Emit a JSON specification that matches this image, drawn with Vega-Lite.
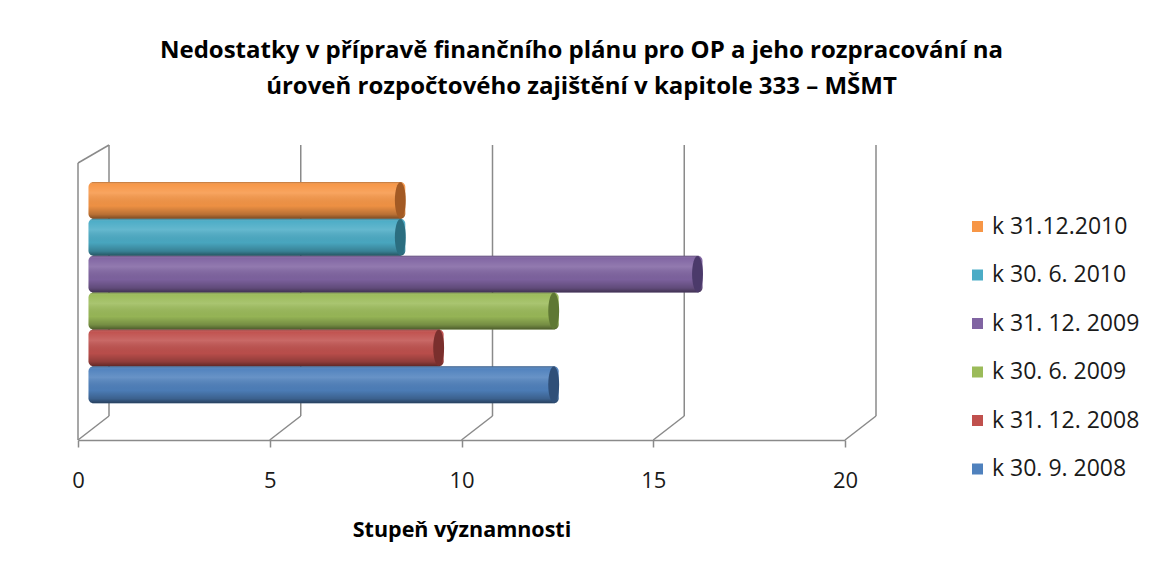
{
  "$schema": "https://vega.github.io/schema/vega-lite/v6.json",
  "width": 767,
  "height": 295,
  "autosize": {"type": "none"},
  "padding": {"left": 78, "top": 145, "right": 310, "bottom": 140},
  "background": "white",
  "config": {
    "font": "Open Sans",
    "view": {"stroke": null}
  },
  "title": {
    "text": ["Nedostatky v přípravě finančního plánu pro OP a jeho rozpracování na", "úroveň rozpočtového zajištění v kapitole 333 – MŠMT"],
    "font": "Open Sans",
    "fontSize": 24,
    "fontWeight": "bold",
    "color": "#000000",
    "lineHeight": 36,
    "anchor": "middle",
    "dx": 120,
    "offset": 45
  },
  "datasets": {
    "ticks": [{"v": 0}, {"v": 5}, {"v": 10}, {"v": 15}, {"v": 20}],
    "bars": [
      {"obdobi": "k 31.12.2010", "hodnota": 8},
      {"obdobi": "k 30. 6. 2010", "hodnota": 8},
      {"obdobi": "k 31. 12. 2009", "hodnota": 15.75},
      {"obdobi": "k 30. 6. 2009", "hodnota": 12},
      {"obdobi": "k 31. 12. 2008", "hodnota": 9},
      {"obdobi": "k 30. 9. 2008", "hodnota": 12}
    ]
  },
  "layer": [
    {
      "data": {"name": "ticks"},
      "mark": {"type": "rule", "color": "#8a8a8a", "strokeWidth": 1.5, "xOffset": 31, "y2Offset": -24},
      "encoding": {
        "x": {"field": "v", "type": "quantitative", "scale": {"domain": [0, 20]}},
        "y": {"value": 0},
        "y2": {"value": "height"}
      }
    },
    {
      "data": {"name": "ticks"},
      "mark": {"type": "rule", "color": "#8a8a8a", "strokeWidth": 1.5, "x2Offset": 31, "y2Offset": -24},
      "encoding": {
        "x": {"field": "v", "type": "quantitative"},
        "x2": {"field": "v"},
        "y": {"value": "height"},
        "y2": {"value": "height"}
      }
    },
    {
      "data": {"values": [{"v": 0}]},
      "mark": {"type": "rule", "color": "#8a8a8a", "strokeWidth": 1.5, "yOffset": 18},
      "encoding": {
        "x": {"field": "v", "type": "quantitative"},
        "y": {"value": 0},
        "y2": {"value": "height"}
      }
    },
    {
      "data": {"values": [{"v": 0}]},
      "mark": {"type": "rule", "color": "#8a8a8a", "strokeWidth": 1.5, "yOffset": 18, "x2Offset": 31},
      "encoding": {
        "x": {"field": "v", "type": "quantitative"},
        "x2": {"field": "v"},
        "y": {"value": 0},
        "y2": {"value": 0}
      }
    },
    {
      "data": {"name": "bars"},
      "mark": {"type": "bar", "xOffset": 20.5, "x2Offset": 10.5, "cornerRadius": 5},
      "encoding": {
        "y": {
          "field": "obdobi", "type": "nominal",
          "sort": ["k 31.12.2010", "k 30. 6. 2010", "k 31. 12. 2009", "k 30. 6. 2009", "k 31. 12. 2008", "k 30. 9. 2008"],
          "scale": {"paddingInner": 0, "paddingOuter": 1.05},
          "axis": null
        },
        "x": {
          "field": "hodnota", "type": "quantitative",
          "scale": {"domain": [0, 20], "nice": false, "zero": true},
          "axis": {
            "values": [0, 5, 10, 15, 20],
            "title": "Stupeň významnosti",
            "titleFont": "Open Sans",
            "titleFontSize": 21.5,
            "titleFontWeight": "bold",
            "titleColor": "#000000",
            "titlePadding": 28,
            "labelFont": "Open Sans",
            "labelFontSize": 22,
            "labelColor": "#1a1a1a",
            "labelPadding": 23,
            "labelFlush": false,
            "domainColor": "#8a8a8a",
            "domainWidth": 1.5,
            "tickColor": "#8a8a8a",
            "tickWidth": 1.5,
            "tickSize": 7,
            "grid": false
          }
        },
        "x2": {"datum": 0},
        "color": {
          "field": "obdobi", "type": "nominal",
          "scale": {
            "domain": ["k 31.12.2010", "k 30. 6. 2010", "k 31. 12. 2009", "k 30. 6. 2009", "k 31. 12. 2008", "k 30. 9. 2008"],
            "range": ["#F79646", "#4BACC6", "#8064A2", "#9BBB59", "#C0504D", "#4F81BD"]
          },
          "legend": {
            "title": null,
            "orient": "none",
            "legendX": 888,
            "legendY": 70,
            "symbolType": "square",
            "symbolSize": 121,
            "symbolStrokeWidth": 0,
            "symbolOpacity": 1,
            "labelFont": "Open Sans",
            "labelFontSize": 23,
            "labelColor": "#1a1a1a",
            "labelOffset": 3,
            "rowPadding": 24.5
          }
        }
      }
    },
    {
      "data": {"name": "bars"},
      "mark": {
        "type": "bar", "xOffset": 20.5, "x2Offset": 10.5, "cornerRadius": 5,
        "fill": {
          "gradient": "linear", "x1": 0, "y1": 0, "x2": 0, "y2": 1,
          "stops": [
            {"offset": 0, "color": "rgba(0,0,0,0.30)"},
            {"offset": 0.07, "color": "rgba(255,255,255,0.02)"},
            {"offset": 0.3, "color": "rgba(255,255,255,0.14)"},
            {"offset": 0.65, "color": "rgba(0,0,0,0.04)"},
            {"offset": 0.88, "color": "rgba(0,0,0,0.25)"},
            {"offset": 1, "color": "rgba(0,0,0,0.5)"}
          ]
        }
      },
      "encoding": {
        "y": {"field": "obdobi", "type": "nominal", "sort": ["k 31.12.2010", "k 30. 6. 2010", "k 31. 12. 2009", "k 30. 6. 2009", "k 31. 12. 2008", "k 30. 9. 2008"]},
        "x": {"field": "hodnota", "type": "quantitative"},
        "x2": {"datum": 0}
      }
    },
    {
      "data": {"name": "bars"},
      "mark": {
        "type": "point", "filled": true, "opacity": 1, "xOffset": 15.5,
        "shape": "M0,-1A0.3,1,0,1,1,0,1A0.3,1,0,1,1,0,-1Z",
        "size": 1310
      },
      "encoding": {
        "y": {"field": "obdobi", "type": "nominal", "sort": ["k 31.12.2010", "k 30. 6. 2010", "k 31. 12. 2009", "k 30. 6. 2009", "k 31. 12. 2008", "k 30. 9. 2008"]},
        "x": {"field": "hodnota", "type": "quantitative"},
        "fill": {
          "field": "obdobi", "type": "nominal",
          "scale": {
            "domain": ["k 31.12.2010", "k 30. 6. 2010", "k 31. 12. 2009", "k 30. 6. 2009", "k 31. 12. 2008", "k 30. 9. 2008"],
            "range": ["#A35A24", "#2B6E80", "#4B3A6A", "#5F7834", "#7A2F2D", "#2F4F78"]
          },
          "legend": null
        }
      }
    }
  ]
}
